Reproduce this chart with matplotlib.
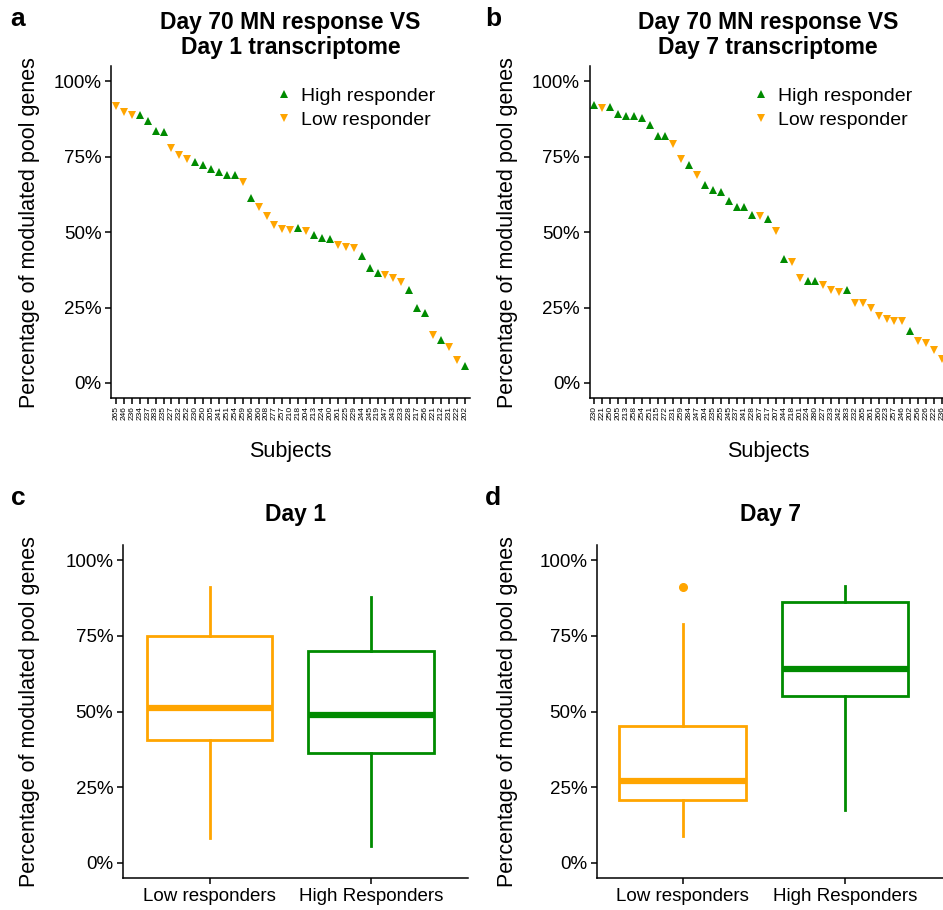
import matplotlib
matplotlib.use("Agg")
import matplotlib.pyplot as plt

plt.rcParams['font.family'] = ['Liberation Sans', 'DejaVu Sans']

GREEN = '#008B00'
ORANGE = '#FFA500'

# ---- panel a: Day 1 transcriptome, subjects sorted by percentage ----
subjects_d1 = ['265', '246', '236', '234', '237', '283', '235', '227', '232', '252',
               '230', '250', '205', '241', '251', '254', '259', '266', '260', '208',
               '277', '257', '210', '218', '204', '213', '224', '200', '261', '225',
               '229', '244', '245', '219', '247', '243', '233', '228', '217', '256',
               '221', '212', '231', '222', '202']
pct_d1 = [91.8, 89.8, 88.7, 88.9, 86.7, 83.7, 83.1, 77.9, 75.7, 74.1,
          73.1, 72.4, 70.8, 69.8, 69.0, 68.8, 66.6, 61.4, 58.2, 55.3,
          52.5, 51.1, 50.7, 51.5, 50.5, 49.2, 48.1, 47.8, 45.9, 45.2,
          44.9, 42.2, 38.0, 36.5, 35.8, 34.7, 33.6, 30.8, 25.0, 23.1,
          15.9, 14.4, 11.8, 7.6, 5.7]
group_d1 = ['L', 'L', 'L', 'H', 'H', 'H', 'H', 'L', 'L', 'L',
            'H', 'H', 'H', 'H', 'H', 'H', 'L', 'H', 'L', 'L',
            'L', 'L', 'L', 'H', 'L', 'H', 'H', 'H', 'L', 'L',
            'L', 'H', 'H', 'H', 'L', 'L', 'L', 'H', 'H', 'H',
            'L', 'H', 'L', 'L', 'H']

# ---- panel b: Day 7 transcriptome ----
subjects_d7 = ['230', '221', '250', '205', '213', '258', '254', '251', '215', '272',
               '231', '259', '284', '247', '204', '235', '255', '245', '237', '241',
               '228', '267', '217', '207', '244', '218', '201', '224', '280', '227',
               '233', '242', '283', '232', '265', '261', '260', '223', '257', '246',
               '202', '256', '226', '222', '236']
pct_d7 = [92.3, 91.1, 91.6, 89.3, 88.4, 88.4, 87.8, 85.6, 81.8, 81.8,
          79.2, 74.1, 72.2, 68.8, 65.6, 64.1, 63.2, 60.4, 58.2, 58.2,
          55.8, 55.5, 54.3, 50.3, 41.0, 40.0, 34.7, 33.7, 33.7, 32.5,
          30.9, 30.3, 30.7, 26.5, 26.5, 25.0, 22.1, 21.3, 20.6, 20.6,
          17.2, 13.9, 13.2, 10.9, 8.0]
group_d7 = ['H', 'L', 'H', 'H', 'H', 'H', 'H', 'H', 'H', 'H',
            'L', 'L', 'H', 'L', 'H', 'H', 'H', 'H', 'H', 'H',
            'H', 'L', 'H', 'L', 'H', 'L', 'L', 'H', 'H', 'L',
            'L', 'L', 'H', 'L', 'L', 'L', 'L', 'L', 'L', 'L',
            'H', 'L', 'L', 'L', 'L']

# ---- panels c, d: box summaries (low, q1, median, q3, high) ----
box_groups = ['Low responders', 'High Responders']
box_d1_low = [8.2, 40.6, 51.2, 74.9, 91.1]
box_d1_high = [5.6, 36.3, 48.8, 70.0, 87.8]
box_d7_low = [8.9, 20.8, 27.1, 45.2, 78.9]
box_d7_high = [17.5, 55.1, 64.0, 86.1, 91.4]
outliers_d7_low = [91.1]

W, H = 943, 910
fig = plt.figure(figsize=(W / 100, H / 100), dpi=100)


def px_axes(left, right, top, bottom):
    return fig.add_axes([left / W, 1 - bottom / H, (right - left) / W, (bottom - top) / H])


def style(ax, left_px, ylab_px):
    ax.set_ylim(-5, 105)
    ax.set_yticks([0, 25, 50, 75, 100])
    ax.set_yticklabels(['0%', '25%', '50%', '75%', '100%'])
    for s in ['top', 'right']:
        ax.spines[s].set_visible(False)
    for s in ['left', 'bottom']:
        ax.spines[s].set_linewidth(1.1)
    ax.tick_params(axis='both', direction='out', length=4, width=1.1, colors='black')
    ax.tick_params(axis='y', labelsize=13.5, pad=3)
    width = ax.get_position().width * W
    ax.set_ylabel('Percentage of modulated pool genes', fontsize=15.5, va='center')
    ax.yaxis.set_label_coords((ylab_px - left_px) / width, 0.5)


def scatter_panel(ax, left_px, ylab_px, subjects, pct, group, title):
    x = list(range(len(subjects)))
    hx = [i for i in x if group[i] == 'H']
    lx = [i for i in x if group[i] == 'L']
    ax.plot(hx, [pct[i] for i in hx], '^', color=GREEN, ms=5.2, mew=0, label='High responder')
    ax.plot(lx, [pct[i] for i in lx], 'v', color=ORANGE, ms=5.2, mew=0, label='Low responder')
    ax.set_xlim(-0.6, len(subjects) - 0.4)
    ax.set_xticks(x)
    ax.set_xticklabels(subjects, rotation=90, fontsize=6)
    ax.tick_params(axis='x', pad=2)
    style(ax, left_px, ylab_px)
    ax.set_xlabel('Subjects', fontsize=15.5, va='center')
    ax.xaxis.set_label_coords(0.5, -(451 - 398) / 331.7)
    ax.set_title(title, fontsize=16.5, fontweight='bold', pad=9, linespacing=1.1)
    ax.legend(loc='upper right', bbox_to_anchor=(0.937, 0.972), frameon=False, fontsize=14,
              handletextpad=0.3, handlelength=1.2, borderaxespad=0.2, labelspacing=0.35)


def box_panel(ax, left_px, right_px, centre1_px, step_px, ylab_px, low, high, fliers, title):
    stats = []
    for name, s, fl in [(box_groups[0], low, fliers[0]), (box_groups[1], high, fliers[1])]:
        stats.append(dict(label=name, whislo=s[0], q1=s[1], med=s[2], q3=s[3], whishi=s[4], fliers=fl))
    for i, (st, col) in enumerate(zip(stats, [ORANGE, GREEN])):
        ax.bxp([st], positions=[i + 1], widths=0.78, showcaps=False, patch_artist=True,
               boxprops=dict(facecolor='white', edgecolor=col, linewidth=2.0),
               whiskerprops=dict(color=col, linewidth=2.0),
               medianprops=dict(color=col, linewidth=4.5, solid_capstyle='butt'),
               flierprops=dict(marker='o', markerfacecolor=col, markeredgecolor=col, markersize=5.5))
    lo = 1 - (centre1_px - left_px) / step_px
    ax.set_xlim(lo, lo + (right_px - left_px) / step_px)
    ax.set_xticks([1, 2])
    ax.set_xticklabels(box_groups, fontsize=13.5)
    style(ax, left_px, ylab_px)
    ax.set_title(title, fontsize=16.5, fontweight='bold', pad=17)


ax_a = px_axes(111.2, 469.5, 66.3, 398)
scatter_panel(ax_a, 111.2, 30, subjects_d1, pct_d1, group_d1,
              'Day 70 MN response VS\nDay 1 transcriptome')
ax_b = px_axes(589.6, 946.6, 66.3, 398)
scatter_panel(ax_b, 589.6, 508, subjects_d7, pct_d7, group_d7,
              'Day 70 MN response VS\nDay 7 transcriptome')
ax_c = px_axes(123, 468, 545, 878)
box_panel(ax_c, 123, 468, 209.5, 161.5, 30, box_d1_low, box_d1_high, [[], []], 'Day 1')
ax_d = px_axes(597, 943, 545, 878)
box_panel(ax_d, 597, 943, 682.5, 162.5, 508, box_d7_low, box_d7_high, [outliers_d7_low, []], 'Day 7')

for tag, (tx, ty) in zip('abcd', [(18, 19), (493, 19), (18, 498), (493, 498)]):
    fig.text(tx / W, 1 - ty / H, tag, fontsize=19, fontweight='bold', ha='center', va='center')

fig.savefig('out.png', dpi=100)
